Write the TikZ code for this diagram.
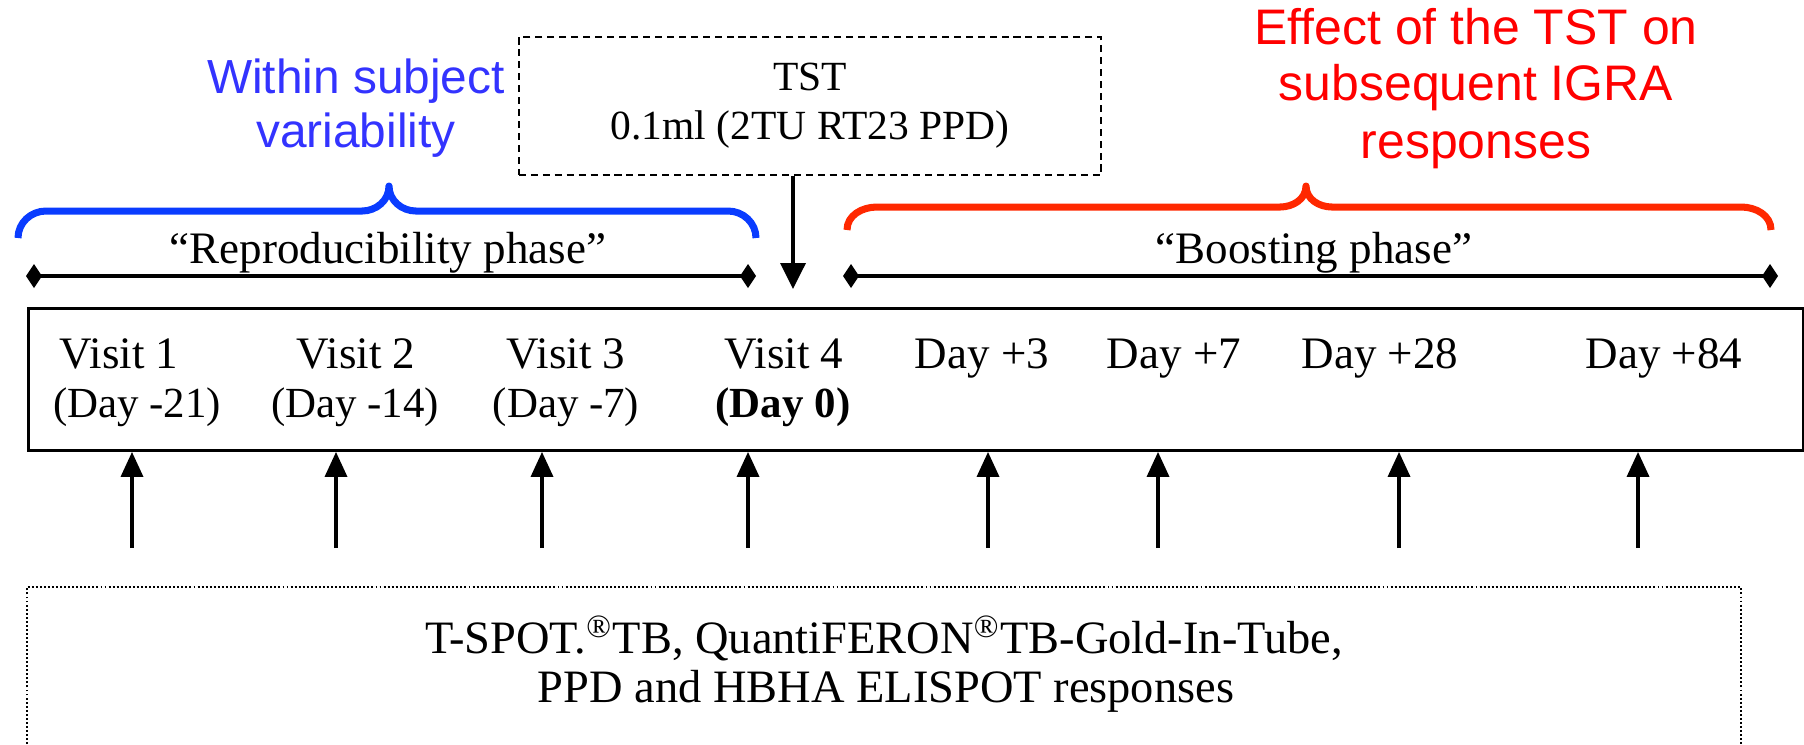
\documentclass[tikz,border=0pt]{standalone}
\usepackage{fontspec}
\setmainfont{Liberation Serif}
\newfontfamily\sansf{Liberation Sans}
\usetikzlibrary{arrows.meta}
\definecolor{bluetxt}{RGB}{51,51,255}
\definecolor{bluebr}{RGB}{10,60,255}
\definecolor{redtxt}{RGB}{255,0,0}
\definecolor{redbr}{RGB}{255,40,0}
\tikzset{
  lbl/.style={anchor=base, inner sep=0pt, font=\fontsize{12.8pt}{15pt}\selectfont},
  daylbl/.style={anchor=base, inner sep=0pt, font=\fontsize{12.2pt}{14pt}\selectfont},
  phaselbl/.style={anchor=base, inner sep=0pt, font=\fontsize{12.8pt}{15pt}\selectfont},
  resplbl/.style={anchor=base, inner sep=0pt, font=\fontsize{13.2pt}{15pt}\selectfont},
  sanslbl/.style={anchor=base, inner sep=0pt, font=\sansf\fontsize{13.6pt}{16pt}\selectfont},
  redlbl/.style={anchor=base, inner sep=0pt, text=redtxt, font=\sansf\fontsize{14.2pt}{16pt}\selectfont},
  bracepath/.style={line width=2pt, line join=round},
  spanline/.style={line width=1.15pt, {Diamond[length=0.16cm,width=0.24cm]}-{Diamond[length=0.16cm,width=0.24cm]}},
  uparrow/.style={line width=1pt, -{Triangle[length=0.25cm,width=0.22cm]}},
  downarrow/.style={line width=1pt, -{Triangle[length=0.26cm,width=0.25cm]}},
  tstbox/.style={draw, line width=0.6pt, dash pattern=on 2pt off 1.4pt, minimum width=5.82cm, minimum height=1.38cm, inner sep=0pt, align=center, font=\fontsize{11.8pt}{13.9pt}\selectfont},
  mainbox/.style={draw, line width=0.8pt, minimum width=17.74cm, minimum height=1.42cm, inner sep=0pt},
  dotbox/.style={line width=0.6pt, dash pattern=on 0.55pt off 0.6pt},
}
\begin{document}
\begin{tikzpicture}[x=0.01cm,y=-0.01cm]
\useasboundingbox (0,0) rectangle (1804,744);

% top annotations
\node[sanslbl, text=bluetxt] (blue1) at (356,93) {Within subject};
\node[sanslbl, text=bluetxt] (blue2) at (356,147) {variability};
\node[redlbl] (red1) at (1476,44) {Effect of the TST on};
\node[redlbl] (red2) at (1476,100) {subsequent IGRA};
\node[redlbl] (red3) at (1476,158) {responses};

% TST box
\node[tstbox] (tst) at (810,106) {TST\\0.1ml (2TU RT23 PPD)};

% braces
\draw[bracepath, bluebr] (18,238) to[out=90,in=180] (46,211) -- (362,211)
  to[out=0,in=-90] (389,186) to[out=-90,in=180] (416,211) -- (728,211)
  to[out=0,in=90] (756,238);
\draw[bracepath, redbr] (847,230) to[out=90,in=180] (877,207) -- (1280,207)
  to[out=0,in=-90] (1306,186) to[out=-90,in=180] (1332,207) -- (1741,207)
  to[out=0,in=90] (1771,230);

% phase labels and spans
\node[phaselbl] (repro) at (388,263) {``Reproducibility phase''};
\node[phaselbl] (boost) at (1314,263) {``Boosting phase''};
\coordinate (r1) at (26,276);
\coordinate (r2) at (756,276);
\coordinate (b1) at (843,276);
\coordinate (b2) at (1778,276);
\draw[spanline] (r1) -- (r2);
\draw[spanline] (b1) -- (b2);

% main timeline box
\node[mainbox, anchor=north west] (tl) at (27,307) {};
\coordinate (tsttip) at (793,289);
\draw[downarrow] (tst.south -| tsttip) -- (tsttip);

% visit labels
\node[lbl] (v1) at (119,368) {Visit 1};
\node[lbl] (v2) at (356,368) {Visit 2};
\node[lbl] (v3) at (566,368) {Visit 3};
\node[lbl] (v4) at (784,368) {Visit 4};
\node[lbl] (d3) at (982,368) {Day +3};
\node[lbl] (d7) at (1174,368) {Day +7};
\node[lbl] (d28) at (1380,368) {Day +28};
\node[lbl] (d84) at (1664,368) {Day +84};
\node[daylbl] (w1) at (137,417) {(Day -21)};
\node[daylbl] (w2) at (355,417) {(Day -14)};
\node[daylbl] (w3) at (566,417) {(Day -7)};
\node[daylbl] (w4) at (783,417) {\textbf{(Day 0)}};

% up arrows
\foreach \n/\x in {1/132,2/336,3/542,4/748,5/988,6/1158,7/1399,8/1638}{
  \coordinate (s\n) at (\x,548);
  \draw[uparrow] (s\n) -- (s\n |- tl.south);
}

% bottom box
\draw[dotbox] (27,744) -- (27,587) -- (1741,587) -- (1741,744);
\node[resplbl] (resp1) at (884,653) {T-SPOT.\textsuperscript{\textregistered}TB, QuantiFERON\textsuperscript{\textregistered}TB-Gold-In-Tube,};
\node[resplbl] (resp2) at (886,702) {PPD and HBHA ELISPOT responses};
\end{tikzpicture}
\end{document}
